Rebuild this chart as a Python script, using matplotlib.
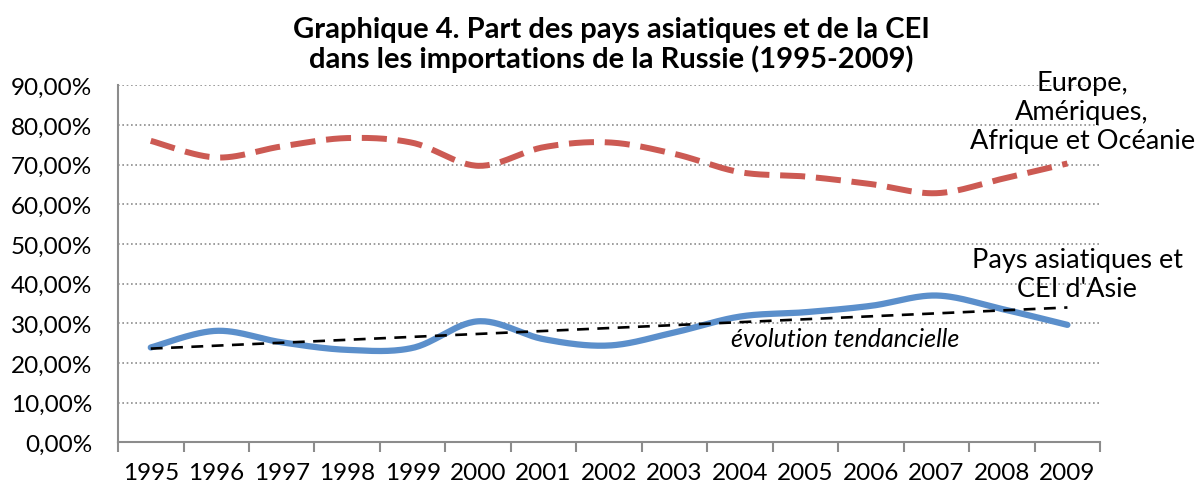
import numpy as np
import matplotlib
matplotlib.use("Agg")
import matplotlib.pyplot as plt

years = [1995, 1996, 1997, 1998, 1999, 2000, 2001, 2002, 2003, 2004, 2005, 2006, 2007, 2008, 2009]
europe = [76.0, 71.8, 74.6, 76.7, 75.5, 69.7, 74.4, 75.6, 72.7, 68.1, 67.0, 65.1, 62.8, 66.4, 70.3]
asie = [23.9, 28.1, 25.2, 23.3, 23.8, 30.5, 26.0, 24.4, 27.7, 31.7, 32.8, 34.4, 37.0, 33.6, 29.6]
yticks = [0, 10, 20, 30, 40, 50, 60, 70, 80, 90]

FONT = ["Lato", "DejaVu Sans"]
plt.rcParams["font.family"] = FONT


def smooth(x, y, n=30):
    """Excel-style smoothed line (Catmull-Rom Bezier) through the points."""
    x = np.asarray(x, float)
    y = np.asarray(y, float)
    P = np.column_stack([x, y])
    out = []
    for i in range(len(P) - 1):
        p0 = P[i - 1] if i > 0 else P[i]
        p1 = P[i]
        p2 = P[i + 1]
        p3 = P[i + 2] if i + 2 < len(P) else P[i + 1]
        c1 = p1 + (p2 - p0) / 6.0
        c2 = p2 - (p3 - p1) / 6.0
        t = np.linspace(0, 1, n)[:, None]
        seg = (1 - t) ** 3 * p1 + 3 * (1 - t) ** 2 * t * c1 + 3 * (1 - t) * t ** 2 * c2 + t ** 3 * p2
        out.append(seg if i == 0 else seg[1:])
    s = np.vstack(out)
    return s[:, 0], s[:, 1]


fig = plt.figure(figsize=(11.97, 4.89), dpi=100)
ax = fig.add_axes([0.0986, 0.0935, 0.8205, 0.73])

xi = np.arange(len(years))
ax.set_xlim(-0.5, len(years) - 0.5)
ax.set_ylim(0, 90)

# gridlines
for v in yticks[1:]:
    ax.axhline(v, color="#8C8C8C", lw=1.2, ls=(0, (1, 1.6)), zorder=1)

# series
sx, sy = smooth(xi, europe)
ax.plot(sx, sy, color="#CC5A53", lw=4.3, ls=(0, (4.2, 1.8)), solid_capstyle="butt",
        dash_capstyle="butt", zorder=3)
bx, by = smooth(xi, asie)
ax.plot(bx, by, color="#5B8FCB", lw=4.5, solid_capstyle="round", zorder=4)

# linear trend of the Asian series
coef = np.polyfit(xi, asie, 1)
ax.plot(xi, np.polyval(coef, xi), color="black", lw=1.9, ls=(0, (4.5, 3.2)), zorder=5)

# axes styling
for s in ["top", "right"]:
    ax.spines[s].set_visible(False)
for s in ["left", "bottom"]:
    ax.spines[s].set_color("#8C8C8C")
    ax.spines[s].set_linewidth(1.5)
ax.set_yticks(yticks)
ax.set_yticklabels([f"{v:.2f}".replace(".", ",") + "%" for v in yticks], fontsize=17.5)
ax.tick_params(axis="y", length=0, pad=18.5)
ax.set_xticks(xi)
ax.set_xticklabels([str(y) for y in years], fontsize=17.5)
ax.tick_params(axis="x", length=0, pad=14.5)
ax.set_xticks(np.arange(-0.5, len(years)), minor=True)
ax.tick_params(axis="x", which="minor", length=7, width=1.5, color="#8C8C8C", direction="out")

# title
fig.text(0.511, 0.965, "Graphique 4. Part des pays asiatiques et de la CEI\ndans les importations de la Russie (1995-2009)",
         ha="center", va="top", fontsize=21, fontweight="bold", linespacing=1.1)

# annotations
fig.text(0.904, 0.769, "Europe,\nAmériques,\nAfrique et Océanie",
         ha="center", va="center", fontsize=19.5, linespacing=1.2)
fig.text(0.9, 0.437, "Pays asiatiques et\nCEI d'Asie",
         ha="center", va="center", fontsize=19.5, linespacing=1.2)
fig.text(0.706, 0.305, "évolution tendancielle",
         ha="center", va="center", fontsize=18, style="italic")

fig.savefig("out.png", dpi=100)
